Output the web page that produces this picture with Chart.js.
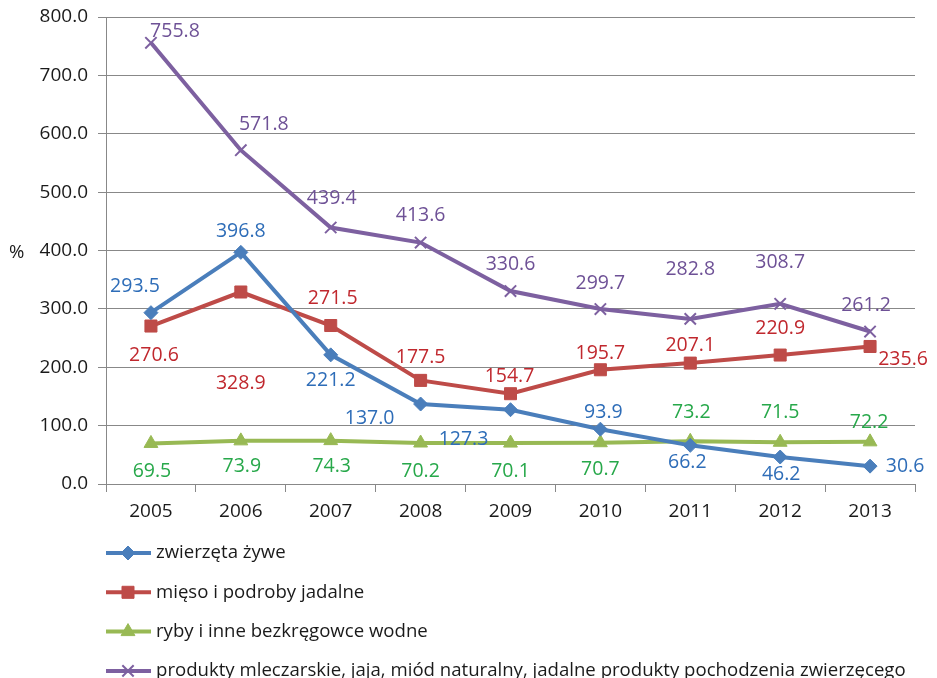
<!DOCTYPE html>
<html>
<head>
<meta charset="utf-8">
<script src="https://cdn.jsdelivr.net/npm/chart.js@4.4.1/dist/chart.umd.min.js"></script>
<style>
  html, body { margin: 0; padding: 0; background: #fff; }
  #wrap { width: 937px; height: 678px; }
</style>
</head>
<body>
<div id="wrap"><canvas id="chart" width="937" height="678"></canvas></div>
<script>
// data
const years = ['2005', '2006', '2007', '2008', '2009', '2010', '2011', '2012', '2013'];
const yTicks = [0, 100, 200, 300, 400, 500, 600, 700, 800];
const zwierzeta = [293.5, 396.8, 221.2, 137.0, 127.3, 93.9, 66.2, 46.2, 30.6];
const mieso = [270.6, 328.9, 271.5, 177.5, 154.7, 195.7, 207.1, 220.9, 235.6];
const ryby = [69.5, 73.9, 74.3, 70.2, 70.1, 70.7, 73.2, 71.5, 72.2];
const mleczarskie = [755.8, 571.8, 439.4, 413.6, 330.6, 299.7, 282.8, 308.7, 261.2];
const seriesNames = [
    'zwierzęta żywe',
    'mięso i podroby jadalne',
    'ryby i inne bezkręgowce wodne',
    'produkty mleczarskie, jaja, miód naturalny, jadalne produkty pochodzenia zwierzęcego'
];

const FONT = '"Open Sans", sans-serif';

// where each value label sits relative to its point (dx, dy in px)
const labelOffsets = [
    [[-16, -26], [0, -21], [0, 26], [-51, 14], [-47, 30], [3, -17], [-3, 17], [1, 17], [35, 0]],
    [[3, 29], [0, 91], [2, -27], [0, -23], [-1, -17], [0, -16], [0, -18], [0, -27], [33, 13]],
    [[1, 28], [1, 26], [1, 26], [0, 28], [0, 28], [0, 27], [1, -29], [0, -30], [-1, -19]],
    [[24, -11], [23, -26], [1, -29], [0, -27], [0, -27], [0, -26], [0, -49], [0, -41], [-4, -26]]
];
const labelColors = ['#2E6DB8', '#C0282E', '#27A84A', '#6E5196'];

const valueLabels = {
    id: 'valueLabels',
    afterDatasetsDraw(chart) {
        const ctx = chart.ctx;
        ctx.save();
        ctx.font = '19.5px ' + FONT;
        ctx.textAlign = 'center';
        ctx.textBaseline = 'middle';
        chart.data.datasets.forEach((ds, i) => {
            const meta = chart.getDatasetMeta(i);
            ctx.fillStyle = labelColors[i];
            meta.data.forEach((pt, j) => {
                const off = labelOffsets[i][j];
                ctx.fillText(ds.data[j].toFixed(1), pt.x + off[0], pt.y + off[1]);
            });
        });
        ctx.restore();
    }
};

// vertical legend under the plot plus the "%" axis label
const extras = {
    id: 'extras',
    afterDraw(chart) {
        const ctx = chart.ctx;
        ctx.save();
        ctx.font = '18.6px ' + FONT;
        ctx.fillStyle = '#1a1a1a';
        ctx.textAlign = 'left';
        ctx.textBaseline = 'middle';
        ctx.fillText('%', 9, 253);

        chart.data.datasets.forEach((ds, i) => {
            const y = 553 + i * 39.3;
            ctx.strokeStyle = ds.borderColor;
            ctx.lineWidth = 4;
            ctx.beginPath();
            ctx.moveTo(106, y);
            ctx.lineTo(151, y);
            ctx.stroke();
            ctx.fillStyle = ds.pointBackgroundColor;
            ctx.strokeStyle = ds.pointBorderColor;
            ctx.lineWidth = ds.pointBorderWidth;
            Chart.helpers.drawPoint(ctx, {
                pointStyle: ds.pointStyle,
                radius: ds.pointRadius,
                borderWidth: ds.pointBorderWidth,
                rotation: 0
            }, 128, y);
            ctx.fillStyle = '#1a1a1a';
            ctx.fillText(seriesNames[i], 156, y);
        });
        ctx.restore();
    }
};

function series(label, data, color, style, radius, bw) {
    return {
        label: label,
        data: data,
        borderColor: color,
        backgroundColor: color,
        pointBackgroundColor: color,
        pointBorderColor: color,
        pointStyle: style,
        pointRadius: radius,
        pointBorderWidth: bw,
        borderWidth: 4,
        tension: 0,
        fill: false
    };
}

new Chart(document.getElementById('chart'), {
    type: 'line',
    data: {
        labels: years,
        datasets: [
            series(seriesNames[0], zwierzeta, '#4A7EBB', 'rectRot', 7, 1),
            series(seriesNames[1], mieso, '#BE4B48', 'rect', 8.5, 1),
            series(seriesNames[2], ryby, '#98B954', 'triangle', 8, 1),
            series(seriesNames[3], mleczarskie, '#7D60A0', 'crossRot', 8, 2)
        ]
    },
    options: {
        responsive: false,
        animation: false,
        layout: { padding: { left: 0, right: 22, top: 17, bottom: 0 } },
        plugins: {
            legend: { display: false },
            tooltip: { enabled: false }
        },
        scales: {
            x: {
                offset: true,
                grid: {
                    offset: true,
                    drawOnChartArea: false,
                    drawTicks: true,
                    tickLength: 8,
                    color: '#888'
                },
                border: { color: '#888', width: 1 },
                ticks: {
                    color: '#1a1a1a',
                    padding: 8,
                    font: { family: FONT, size: 19 },
                    maxRotation: 0
                },
                afterFit(scale) {
                    scale.height = 194;
                    scale.paddingLeft = 0;
                    scale.paddingRight = 0;
                }
            },
            y: {
                min: 0,
                max: 800,
                afterBuildTicks(scale) {
                    scale.ticks = yTicks.map(v => ({ value: v }));
                },
                grid: { color: '#888', tickLength: 8, lineWidth: 1 },
                border: { color: '#888', width: 1 },
                ticks: {
                    color: '#1a1a1a',
                    padding: 10,
                    font: { family: FONT, size: 19 },
                    callback: v => v.toFixed(1)
                },
                afterFit(scale) {
                    scale.width = 106;
                    scale.paddingTop = 0;
                    scale.paddingBottom = 0;
                }
            }
        }
    },
    plugins: [valueLabels, extras]
});
</script>
</body>
</html>
